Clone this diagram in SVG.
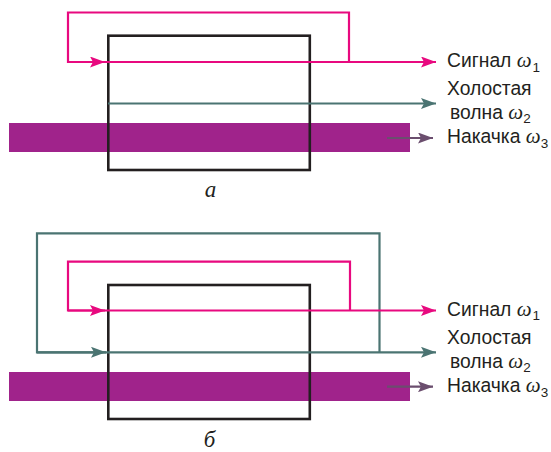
<svg xmlns="http://www.w3.org/2000/svg" width="551" height="452" viewBox="0 0 551 452">
<defs>
<style>
.sig{fill:none;stroke:#e8097f;stroke-width:2.2}
.idl{fill:none;stroke:#4b7472;stroke-width:2.2}
.pmp{fill:none;stroke:#6b4e6e;stroke-width:2.2}
.box{fill:none;stroke:#231f20;stroke-width:2.6}
.band{fill:#a0238b}
.lbl{font-family:"Liberation Sans",Arial,sans-serif;font-size:19.3px;fill:#231f20}
.om{font-family:"Liberation Serif","Times New Roman",serif;font-style:italic;font-size:21px}
.sub{font-size:13.5px}
.cap{font-family:"Liberation Serif","Times New Roman",serif;font-style:italic;font-size:23px;fill:#231f20;text-anchor:middle}
</style>
<marker id="aSig" viewBox="0 0 15 11" refX="15" refY="5.5" markerWidth="15" markerHeight="11" markerUnits="userSpaceOnUse" orient="auto"><path d="M0,0 L15,5.5 L0,11 L3,5.5 z" fill="#e8097f"/></marker>
<marker id="aIdl" viewBox="0 0 15 11" refX="15" refY="5.5" markerWidth="15" markerHeight="11" markerUnits="userSpaceOnUse" orient="auto"><path d="M0,0 L15,5.5 L0,11 L3,5.5 z" fill="#4b7472"/></marker>
<marker id="aPmp" viewBox="0 0 15 11" refX="15" refY="5.5" markerWidth="15" markerHeight="11" markerUnits="userSpaceOnUse" orient="auto"><path d="M0,0 L15,5.5 L0,11 L3,5.5 z" fill="#6b4e6e"/></marker>
</defs>

<g id="panel-a">
<g id="pump-a"><rect class="band" x="9" y="123" width="401" height="29"/></g>
<g id="crystal-a"><rect class="box" x="108.3" y="35.7" width="201.5" height="134.3"/></g>
<g id="connectors-a">
<path class="sig" d="M349,62 V12.5 H68 V62 H105" marker-end="url(#aSig)"/>
<path class="sig" d="M68,62 H436" marker-end="url(#aSig)"/>
<path class="idl" d="M108,103.5 H436" marker-end="url(#aIdl)"/>
<path class="pmp" d="M387,138 H433" marker-end="url(#aPmp)"/>
</g>
<g id="labels-a">
<text class="lbl" x="447" y="67">Сигнал <tspan class="om">ω</tspan><tspan class="sub" dx="1" dy="4.5">1</tspan></text>
<text class="lbl" x="447" y="95">Холостая</text>
<text class="lbl" x="450" y="118.5">волна <tspan class="om">ω</tspan><tspan class="sub" dy="4.5">2</tspan></text>
<text class="lbl" x="447" y="143">Накачка <tspan class="om">ω</tspan><tspan class="sub" dy="4.5">3</tspan></text>
<text class="cap" x="210.5" y="197">а</text>
</g>
</g>

<g id="panel-b">
<g id="pump-b"><rect class="band" x="9" y="372" width="401" height="29"/></g>
<g id="crystal-b"><rect class="box" x="108.3" y="285" width="201.5" height="134"/></g>
<g id="connectors-b">
<path class="idl" d="M379.5,352.3 V233.3 H37 V352.3 H106" marker-end="url(#aIdl)"/>
<path class="idl" d="M37,352.3 H436" marker-end="url(#aIdl)"/>
<path class="sig" d="M350,310.5 V261.7 H68 V310.5 H105" marker-end="url(#aSig)"/>
<path class="sig" d="M68,310.5 H436" marker-end="url(#aSig)"/>
<path class="pmp" d="M387,386.7 H433" marker-end="url(#aPmp)"/>
</g>
<g id="labels-b">
<text class="lbl" x="447" y="315.5">Сигнал <tspan class="om">ω</tspan><tspan class="sub" dx="1" dy="4.5">1</tspan></text>
<text class="lbl" x="447" y="344">Холостая</text>
<text class="lbl" x="450" y="367.5">волна <tspan class="om">ω</tspan><tspan class="sub" dy="4.5">2</tspan></text>
<text class="lbl" x="447" y="392">Накачка <tspan class="om">ω</tspan><tspan class="sub" dy="4.5">3</tspan></text>
<text class="cap" x="209.5" y="446.5">б</text>
</g>
</g>
</svg>
